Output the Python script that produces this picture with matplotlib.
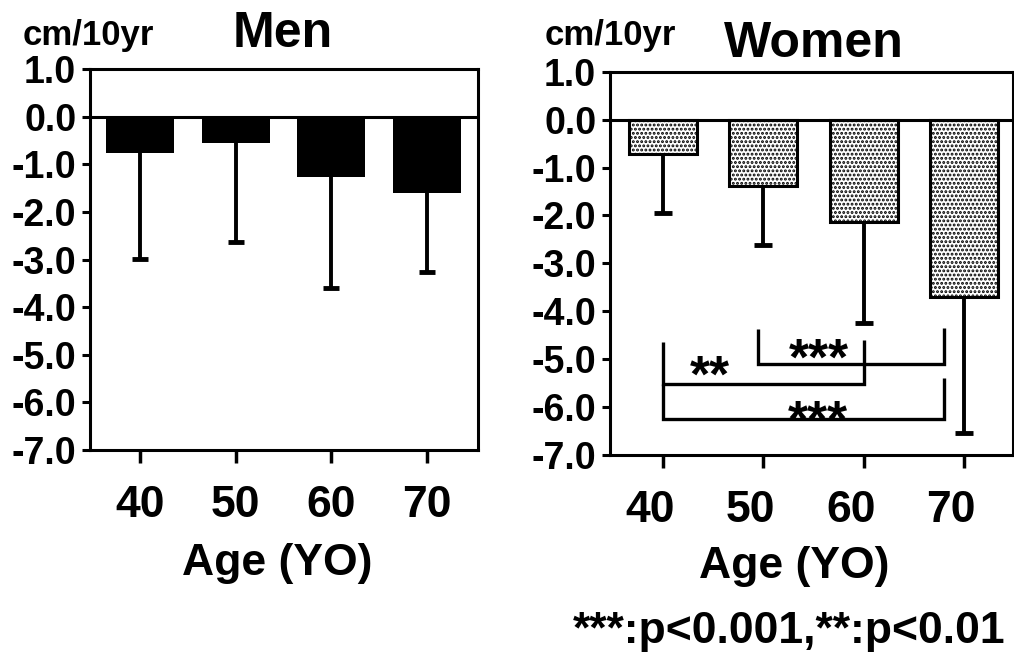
import matplotlib
matplotlib.use('Agg')
import matplotlib.pyplot as plt
import matplotlib.transforms as mtransforms

# Datos (cm/10yr)
ages = [40, 50, 60, 70]
men_mean = [-0.76, -0.56, -1.26, -1.61]
men_sd = [2.22, 2.07, 2.33, 1.65]
women_mean = [-0.72, -1.38, -2.14, -3.70]
women_sd = [1.22, 1.23, 2.11, 2.85]

yticks = [1, 0, -1, -2, -3, -4, -5, -6, -7]
ytick_labels = ['1.0', '0.0', '-1.0', '-2.0', '-3.0', '-4.0', '-5.0', '-6.0', '-7.0']

# Brackets de significancia (Women): x1, x2, tope pierna izq, tope pierna der, nivel barra
brackets = [(40, 60, -4.65, -4.61, -5.52),
            (49.5, 68, -4.37, -4.34, -5.10),
            (40, 68, -5.52, -5.40, -6.25)]
sig_labels = ['**', '***', '***']
sig_x = [44.7, 55.5, 55.4]
sig_y = [-5.68, -5.33, -6.62]

plt.rcParams['font.family'] = 'Liberation Sans'
plt.rcParams['font.weight'] = 'bold'
plt.rcParams['hatch.color'] = 'black'
plt.rcParams['hatch.linewidth'] = 1.4

fig = plt.figure(figsize=(10.14, 6.59), dpi=100)
ax1 = fig.add_axes([0.0888, 0.3171, 0.3826, 0.5782])
ax2 = fig.add_axes([0.6016, 0.3096, 0.3974, 0.5816])

lw = 2.2


def style_axes(ax, xlim, label_shift=0):
    ax.set_xlim(*xlim)
    ax.set_ylim(-7, 1)
    ax.set_yticks(yticks)
    ax.set_yticklabels(ytick_labels, fontsize=27, fontweight='bold')
    ax.set_xticks(ages)
    ax.set_xticklabels([str(a) for a in ages], fontsize=32, fontweight='bold')
    ax.tick_params(axis='y', direction='out', length=6, width=lw, pad=4)
    ax.tick_params(axis='x', direction='out', length=9, width=2.5, pad=16)
    for sp in ax.spines.values():
        sp.set_linewidth(lw)
    ax.axhline(0, color='black', lw=lw, zorder=3)
    if label_shift:
        off = mtransforms.ScaledTranslation(label_shift / 100, 0, fig.dpi_scale_trans)
        for lab in ax.get_xticklabels():
            lab.set_transform(lab.get_transform() + off)


# Men
ax1.bar(ages, men_mean, width=7.1, color='black', zorder=2)
eb = ax1.errorbar(ages, men_mean, yerr=[men_sd, [0] * 4], fmt='none', ecolor='black',
                  elinewidth=2.8, capsize=5.5, capthick=3.5, zorder=2)
eb[1][1].set_visible(False)
style_axes(ax1, (34.8, 75.3))

# Women
ax2.bar(ages, women_mean, width=6.8, color='white', edgecolor='black', linewidth=2.2,
        hatch='....', zorder=2)
eb = ax2.errorbar(ages, women_mean, yerr=[women_sd, [0] * 4], fmt='none', ecolor='black',
                  elinewidth=2.8, capsize=6.5, capthick=3.5, zorder=2)
eb[1][1].set_visible(False)
style_axes(ax2, (34.7, 74.9), label_shift=-13)

for (x1, x2, t1, t2, yb), lab, tx, ty in zip(brackets, sig_labels, sig_x, sig_y):
    ax2.plot([x1, x1, x2, x2], [t1, yb, yb, t2], color='black', lw=2.4,
             solid_capstyle='butt', solid_joinstyle='miter', zorder=4)
    ax2.text(tx, ty, lab, fontsize=37, fontweight='bold', ha='center', va='baseline', zorder=3)

# Textos
fig.text(23 / 1014, 1 - 45 / 659, 'cm/10yr', fontsize=25, fontweight='bold', ha='left', va='baseline')
fig.text(545 / 1014, 1 - 45 / 659, 'cm/10yr', fontsize=25, fontweight='bold', ha='left', va='baseline')
fig.text(283 / 1014, 1 - 47 / 659, 'Men', fontsize=36, fontweight='bold', ha='center', va='baseline')
fig.text(814 / 1014, 1 - 57 / 659, 'Women', fontsize=36, fontweight='bold', ha='center', va='baseline')
fig.text(277 / 1014, 1 - 575 / 659, 'Age (YO)', fontsize=32, fontweight='bold', ha='center', va='baseline')
fig.text(794 / 1014, 1 - 578 / 659, 'Age (YO)', fontsize=32, fontweight='bold', ha='center', va='baseline')
fig.text(789 / 1014, 1 - 643 / 659, '***:p<0.001,**:p<0.01', fontsize=32, fontweight='bold',
         ha='center', va='baseline')

fig.savefig('out.png', dpi=100)
